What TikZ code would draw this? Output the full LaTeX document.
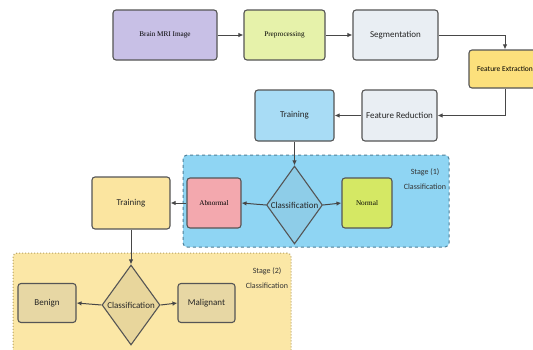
\documentclass[tikz,border=0pt]{standalone}
\usepackage{fontspec}
\setmainfont{Liberation Serif}
\newfontfamily\sansnarrow{Carlito}
\usetikzlibrary{arrows.meta,shapes.geometric}
\definecolor{bordc}{HTML}{555555}
\definecolor{linec}{HTML}{474747}
\definecolor{cmri}{HTML}{C8C0E6}
\definecolor{cpre}{HTML}{E6F2AA}
\definecolor{cseg}{HTML}{E9EEF3}
\definecolor{cfe}{HTML}{FCE07C}
\definecolor{ctrainb}{HTML}{A8DCF5}
\definecolor{cstage1}{HTML}{8FD5F3}
\definecolor{cstage1b}{HTML}{4F7F98}
\definecolor{cdia1}{HTML}{8ECDE8}
\definecolor{cab}{HTML}{F3A8AE}
\definecolor{cnorm}{HTML}{D5E864}
\definecolor{ctrainy}{HTML}{FBE5A0}
\definecolor{cstage2}{HTML}{FBE7A6}
\definecolor{cstage2b}{HTML}{B5A062}
\definecolor{cdia2}{HTML}{E8D69C}
\definecolor{cbm}{HTML}{E7D7A4}
\tikzset{
  boxnode/.style={draw=bordc, line width=1.1pt, rounded corners=3pt, inner sep=0pt, align=center},
  dianode/.style={draw=bordc, line width=1.1pt, shape=diamond, inner sep=0pt},
  conn/.style={draw=linec, line width=1pt, -{Latex[length=5pt,width=4.5pt]}},
  serift/.style={font=\fontsize{7.2}{8}\selectfont},
  sanst/.style={font=\sansnarrow\fontsize{9}{10}\selectfont, text=black!85},
  stagelab/.style={font=\sansnarrow\fontsize{8}{14.5}\selectfont, align=center, text=black!80},
}
\begin{document}
\begin{tikzpicture}[x=1pt,y=-1pt]
\useasboundingbox (0,0) rectangle (533,349);
\clip (0,0) rectangle (533,349);
\fill[white] (0,0) rectangle (533,349);

% stage boxes
\node[draw=cstage1b, fill=cstage1, dashed, line width=1pt, rounded corners=4pt, minimum width=266pt, minimum height=92pt, inner sep=0pt] (st1) at (316,201) {};
\node[draw=cstage2b, fill=cstage2, dotted, line width=1pt, rounded corners=4pt, minimum width=278pt, minimum height=110pt, inner sep=0pt] (st2) at (152,308) {};
\node[stagelab] (st1lab) at (425,179) {Stage (1)\\Classification};
\node[stagelab] (st2lab) at (267,278) {Stage (2)\\Classification};

% top row
\node[boxnode, fill=cmri, minimum width=104pt, minimum height=50pt, serift] (mri) at (165,35) {Brain MRI Image};
\node[boxnode, fill=cpre, minimum width=81pt, minimum height=50pt, serift] (pre) at (284.5,35) {Preprocessing};
\node[boxnode, fill=cseg, minimum width=85pt, minimum height=50pt, sanst] (seg) at (395.5,35) {Segmentation};
\node[boxnode, fill=cfe, minimum width=72pt, minimum height=38pt, font=\sansnarrow\fontsize{7.5}{8}\selectfont] (fe) at (505,69) {Feature Extraction};
\node[boxnode, fill=cseg, minimum width=75pt, minimum height=51pt, sanst] (fr) at (399.5,115.5) {Feature Reduction};
\node[boxnode, fill=ctrainb, minimum width=79pt, minimum height=51pt, sanst] (tr1) at (294.5,115.5) {Training};

% stage 1
\node[dianode, fill=cdia1, minimum width=56pt, minimum height=78pt] (d1) at (294.5,205) {};
\node[sanst] (d1t) at (d1.center) {Classification};
\node[boxnode, fill=cab, minimum width=54pt, minimum height=50pt, serift] (ab) at (214,203) {Abnormal};
\node[boxnode, fill=cnorm, minimum width=50pt, minimum height=50pt, serift] (no) at (367,203) {Normal};

% stage 2
\node[boxnode, fill=ctrainy, minimum width=78pt, minimum height=52pt, sanst] (tr2) at (131,203) {Training};
\node[dianode, fill=cdia2, minimum width=58pt, minimum height=80pt] (d2) at (131,305) {};
\node[sanst] (d2t) at (d2.center) {Classification};
\node[boxnode, fill=cbm, minimum width=58pt, minimum height=39pt, sanst] (be) at (47,303) {Benign};
\node[boxnode, fill=cbm, minimum width=57pt, minimum height=39pt, sanst] (ma) at (206.5,303) {Malignant};

% connectors
\draw[conn] (mri) -- (pre);
\draw[conn] (pre) -- (seg);
\draw[conn] (seg.east) -| (fe.north);
\draw[conn] (fe.south) |- (fr.east);
\draw[conn] (fr) -- (tr1);
\draw[conn] (tr1) -- (d1.north);
\draw[conn] (d1.west) -- (ab.east);
\draw[conn] (d1.east) -- (no.west);
\draw[conn] (ab) -- (tr2);
\draw[conn] (tr2) -- (d2.north);
\draw[conn] (d2.west) -- (be.east);
\draw[conn] (d2.east) -- (ma.west);
\end{tikzpicture}
\end{document}
